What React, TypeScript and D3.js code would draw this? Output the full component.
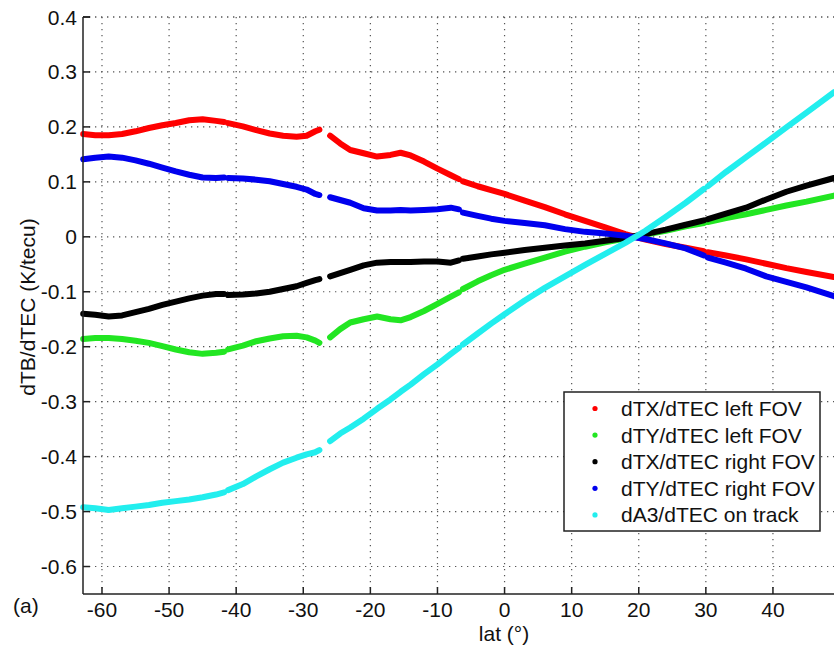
import React from "react";
import * as d3 from "d3";

// latitude samples (null rows in the series mark the gaps in the record)
const lat = [
  -62.8, -61, -59, -57, -55, -53, -51, -49, -47, -45, -43, -41.8, -41.5, -41.2,
  -39, -37, -35, -33, -31, -29.5, -28.2, -27.6, -26.8, -26, -24.5, -23, -21, -19,
  -17, -15.5, -14, -12, -10, -8, -6.8, -6.5, -6.2, -4, -2, 0, 3, 6, 9, 12, 15, 18,
  21, 24, 27, 29.7, 30, 30.3, 33, 36, 39, 42, 45, 49.1,
];

const dtxLeft = [
  0.187, 0.185, 0.185, 0.187, 0.192, 0.198, 0.203, 0.207, 0.212, 0.214, 0.211, 0.209, null, 0.207,
  0.201, 0.194, 0.188, 0.184, 0.182, 0.184, 0.192, 0.195, null, 0.184, 0.17, 0.158, 0.152, 0.146,
  0.149, 0.153, 0.148, 0.137, 0.124, 0.112, 0.105, null, 0.101, 0.092, 0.085, 0.078, 0.066, 0.054, 0.041, 0.029, 0.017, 0.005,
  -0.005, -0.013, -0.02, -0.026, null, -0.028, -0.034, -0.041, -0.049, -0.057, -0.064, -0.073,
];

const dtyLeft = [
  -0.186, -0.184, -0.184, -0.186, -0.189, -0.193, -0.199, -0.205, -0.21, -0.213, -0.211, -0.209, null, -0.205,
  -0.198, -0.19, -0.185, -0.181, -0.18, -0.183, -0.189, -0.193, null, -0.183, -0.168, -0.156, -0.15, -0.145,
  -0.15, -0.152, -0.146, -0.135, -0.122, -0.109, -0.101, null, -0.095, -0.081, -0.07, -0.06, -0.049, -0.038, -0.027, -0.018, -0.01, -0.003,
  0.004, 0.011, 0.019, 0.025, null, 0.027, 0.034, 0.041, 0.049, 0.057, 0.064, 0.075,
];

const dtxRight = [
  -0.14, -0.142, -0.145, -0.143, -0.137, -0.131, -0.124, -0.118, -0.112, -0.107, -0.104, -0.104, null, -0.106,
  -0.105, -0.103, -0.1, -0.095, -0.09, -0.084, -0.079, -0.077, null, -0.072, -0.066, -0.06, -0.052, -0.047,
  -0.046, -0.046, -0.046, -0.045, -0.045, -0.047, -0.043, null, -0.04, -0.036, -0.032, -0.029, -0.024, -0.02, -0.016, -0.012, -0.007, -0.002,
  0.005, 0.013, 0.022, 0.03, null, 0.032, 0.042, 0.053, 0.068, 0.082, 0.093, 0.107,
];

const dtyRight = [
  0.141, 0.144, 0.146, 0.144, 0.139, 0.133, 0.126, 0.119, 0.113, 0.108, 0.107, 0.108, null, 0.107,
  0.106, 0.104, 0.101, 0.096, 0.091, 0.086, 0.078, 0.076, null, 0.072, 0.067, 0.062, 0.052, 0.048,
  0.048, 0.049, 0.048, 0.049, 0.05, 0.053, 0.05, null, 0.044, 0.038, 0.033, 0.029, 0.025, 0.021, 0.014, 0.009, 0.006, 0.002,
  -0.004, -0.012, -0.021, -0.034, null, -0.038, -0.047, -0.058, -0.072, -0.082, -0.092, -0.108,
];

const da3Track = [
  -0.492, -0.494, -0.497, -0.494, -0.491, -0.488, -0.484, -0.481, -0.478, -0.474, -0.469, -0.465, null, -0.461,
  -0.45, -0.436, -0.423, -0.411, -0.402, -0.396, -0.392, -0.388, null, -0.372, -0.358, -0.347, -0.331, -0.313,
  -0.296, -0.282, -0.269, -0.25, -0.232, -0.213, -0.202, null, -0.196, -0.176, -0.158, -0.141, -0.116, -0.093, -0.072, -0.051, -0.031, -0.011,
  0.011, 0.036, 0.062, 0.087, null, 0.092, 0.118, 0.145, 0.172, 0.199, 0.226, 0.263,
];

const seriesNames = [
  "dTX/dTEC left FOV",
  "dTY/dTEC left FOV",
  "dTX/dTEC right FOV",
  "dTY/dTEC right FOV",
  "dA3/dTEC on track",
];
const seriesColors = ["#ff0000", "#22e622", "#000000", "#0000ee", "#22eeee"];
const seriesValues = [dtxLeft, dtyLeft, dtxRight, dtyRight, da3Track];

const xTicks = [-60, -50, -40, -30, -20, -10, 0, 10, 20, 30, 40];
const yTicks = [-0.6, -0.5, -0.4, -0.3, -0.2, -0.1, 0, 0.1, 0.2, 0.3, 0.4];

const W = 834;
const H = 647;
const left = 83;
const top = 17;
const bottom = 594;
const right = W;

const font = "Arial, 'Liberation Sans', Helvetica, sans-serif";

export default function App() {
  const x = d3.scaleLinear().domain([-62.83, 49.1]).range([left, right]);
  const y = d3.scaleLinear().domain([-0.65, 0.4]).range([bottom, top]);

  const line = d3
    .line<[number, number | null]>()
    .defined((d) => d[1] !== null)
    .x((d) => x(d[0]))
    .y((d) => y(d[1] as number));

  const fmt = (v: number) => (Math.abs(v) < 1e-9 ? "0" : v.toFixed(1));

  const legX = 564;
  const legY = 392;
  const legRow = 26.6;

  return (
    <svg
      width={W}
      height={H}
      style={{ position: "absolute", left: 0, top: 0, background: "#fff" }}
      fontFamily={font}
    >
      <rect width={W} height={H} fill="#fff" />

      {/* grid */}
      <g stroke="#555" strokeWidth={1.2} strokeDasharray="1.3,4.7" fill="none">
        {xTicks.map((t) => (
          <line key={"gx" + t} x1={x(t)} x2={x(t)} y1={top} y2={bottom} />
        ))}
        {yTicks.map((t) => (
          <line key={"gy" + t} x1={left} x2={right} y1={y(t)} y2={y(t)} />
        ))}
        <line x1={left} x2={right} y1={top} y2={top} />
      </g>

      {/* series */}
      <g fill="none" strokeWidth={6} strokeLinecap="round" strokeLinejoin="round">
        {seriesValues.map((vals, i) => (
          <path
            key={seriesNames[i]}
            d={line(lat.map((l, j) => [l, vals[j]] as [number, number | null])) || ""}
            stroke={seriesColors[i]}
          />
        ))}
      </g>

      {/* axes */}
      <g stroke="#222" strokeWidth={1.5}>
        <line x1={left} x2={left} y1={top} y2={bottom} />
        <line x1={left} x2={right} y1={bottom} y2={bottom} />
        {xTicks.map((t) => (
          <line key={"tx" + t} x1={x(t)} x2={x(t)} y1={bottom} y2={bottom - 7} />
        ))}
        {yTicks.map((t) => (
          <line key={"ty" + t} x1={left} x2={left + 7} y1={y(t)} y2={y(t)} />
        ))}
        <line x1={left} x2={left + 7} y1={top} y2={top} />
      </g>

      <g fontSize={21} fill="#111">
        {xTicks.map((t) => (
          <text key={"lx" + t} x={x(t)} y={617} textAnchor="middle">
            {String(t)}
          </text>
        ))}
        {yTicks.map((t) => (
          <text key={"ly" + t} x={77} y={y(t) + 7.5} textAnchor="end">
            {fmt(t)}
          </text>
        ))}
        <text x={504} y={641} textAnchor="middle">
          lat (°)
        </text>
        <text transform="translate(35,307) rotate(-90)" textAnchor="middle">
          dTB/dTEC (K/tecu)
        </text>
        <text x={13} y={613}>
          (a)
        </text>
      </g>

      {/* legend */}
      <g>
        <rect
          x={legX}
          y={legY}
          width={256}
          height={139}
          fill="#fff"
          stroke="#222"
          strokeWidth={1.5}
        />
        {seriesNames.map((n, i) => (
          <g key={"leg" + n}>
            <circle cx={595} cy={legY + 16.5 + i * legRow} r={2.6} fill={seriesColors[i]} />
            <text x={621} y={legY + 24 + i * legRow} fontSize={21} fill="#111">
              {n}
            </text>
          </g>
        ))}
      </g>
    </svg>
  );
}
